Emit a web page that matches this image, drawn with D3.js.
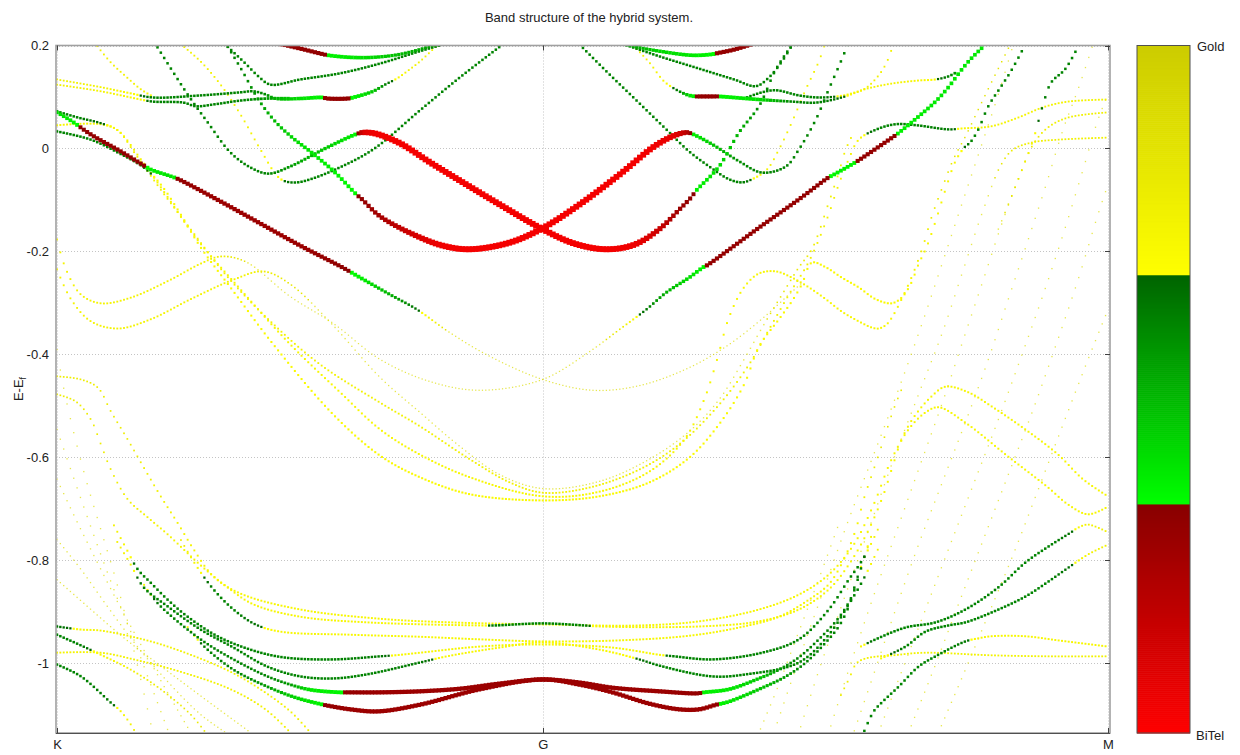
<!DOCTYPE html>
<html>
<head>
<meta charset="utf-8">
<script src="https://cdn.jsdelivr.net/npm/d3@7"></script>
<style>
  body { margin: 0; background: #fff; }
  svg { font-family: "Liberation Sans", Arial, sans-serif; }
</style>
</head>
<body>
<svg id="chart" width="1240" height="755"></svg>
<script>
// k path: K - G - M, energies in eV relative to E_f, w = projection (0 BiTel .. 1 Gold)
const kPoints = [0, 0.4873, 1.054];
const kLabels = ["K", "G", "M"];
const energyTicks = [0.2, 0, -0.2, -0.4, -0.6, -0.8, -1];
const energyRange = [-1.136, 0.2];

const bandA = [
  [0.000, 0.070, 0.42], [0.014, 0.054, 0.36], [0.034, 0.027, 0.30], [0.064, -0.006, 0.30],
  [0.087, -0.033, 0.31], [0.094, -0.041, 0.36], [0.114, -0.054, 0.40], [0.122, -0.060, 0.30],
  [0.164, -0.103, 0.28], [0.204, -0.146, 0.28], [0.244, -0.189, 0.28], [0.286, -0.231, 0.31],
  [0.304, -0.251, 0.36], [0.334, -0.284, 0.50], [0.361, -0.313, 0.64], [0.394, -0.358, 0.86],
  [0.434, -0.404, 0.90], [0.487, -0.449, 0.90], [0.537, -0.470, 0.90], [0.584, -0.461, 0.90],
  [0.634, -0.426, 0.90], [0.674, -0.381, 0.90], [0.709, -0.328, 0.90], [0.734, -0.284, 0.88],
  [0.749, -0.258, 0.85]
];
const bandA2 = [
  [0.000, -0.177, 0.74], [0.009, -0.235, 0.74], [0.024, -0.284, 0.74], [0.044, -0.301, 0.74],
  [0.074, -0.290, 0.74], [0.114, -0.255, 0.74], [0.144, -0.224, 0.74], [0.164, -0.210, 0.76],
  [0.189, -0.220, 0.84], [0.234, -0.288, 0.90], [0.277, -0.340, 0.90], [0.324, -0.410, 0.90],
  [0.374, -0.453, 0.90], [0.424, -0.470, 0.90], [0.487, -0.449, 0.90], [0.534, -0.395, 0.88],
  [0.564, -0.352, 0.80], [0.591, -0.313, 0.62], [0.611, -0.280, 0.50], [0.634, -0.251, 0.40],
  [0.648, -0.231, 0.35], [0.652, -0.227, 0.30], [0.704, -0.154, 0.30], [0.744, -0.099, 0.30],
  [0.774, -0.056, 0.31], [0.778, -0.052, 0.36], [0.799, -0.029, 0.36], [0.804, -0.023, 0.30],
  [0.839, 0.023, 0.30], [0.842, 0.027, 0.36], [0.864, 0.062, 0.37], [0.881, 0.091, 0.38],
  [0.894, 0.119, 0.38], [0.906, 0.150, 0.38], [0.916, 0.173, 0.38], [0.929, 0.198, 0.38]
];
const bandR1 = [
  [0.099, 0.202, 0.60], [0.131, 0.105, 0.60], [0.151, 0.051, 0.60], [0.174, -0.008, 0.60],
  [0.194, -0.037, 0.60], [0.212, -0.049, 0.60], [0.234, -0.035, 0.55], [0.267, -0.002, 0.45],
  [0.294, 0.023, 0.38], [0.302, 0.029, 0.34], [0.307, 0.031, 0.10], [0.319, 0.029, 0.04],
  [0.344, 0.010, 0.03], [0.374, -0.027, 0.03], [0.407, -0.066, 0.03], [0.444, -0.109, 0.03],
  [0.487, -0.157, 0.03], [0.519, -0.185, 0.03], [0.551, -0.196, 0.03], [0.579, -0.187, 0.05],
  [0.604, -0.157, 0.15], [0.624, -0.119, 0.28], [0.636, -0.095, 0.31], [0.641, -0.082, 0.36],
  [0.664, -0.035, 0.40], [0.684, 0.031, 0.50], [0.704, 0.082, 0.58], [0.721, 0.154, 0.60],
  [0.736, 0.198, 0.60]
];
const bandR2 = [
  [0.170, 0.202, 0.60], [0.186, 0.150, 0.60], [0.202, 0.095, 0.55], [0.219, 0.052, 0.48],
  [0.236, 0.021, 0.42], [0.254, -0.006, 0.38], [0.279, -0.047, 0.36], [0.300, -0.089, 0.34],
  [0.306, -0.099, 0.30], [0.324, -0.132, 0.25], [0.364, -0.173, 0.10], [0.389, -0.190, 0.04],
  [0.414, -0.196, 0.03], [0.454, -0.183, 0.03], [0.487, -0.155, 0.03], [0.524, -0.109, 0.03],
  [0.564, -0.051, 0.03], [0.599, 0.004, 0.04], [0.619, 0.025, 0.08], [0.631, 0.031, 0.20],
  [0.636, 0.029, 0.36], [0.657, 0.008, 0.45], [0.684, -0.025, 0.58], [0.707, -0.047, 0.60],
  [0.731, -0.035, 0.60], [0.744, -0.002, 0.60], [0.761, 0.056, 0.60], [0.774, 0.115, 0.60],
  [0.787, 0.173, 0.60], [0.793, 0.202, 0.60]
];
const bandG1 = [
  [0.127, 0.198, 0.75], [0.144, 0.169, 0.75], [0.164, 0.124, 0.75], [0.184, 0.066, 0.75],
  [0.204, -0.002, 0.74], [0.221, -0.054, 0.70], [0.229, -0.064, 0.64], [0.241, -0.066, 0.60],
  [0.254, -0.060, 0.60], [0.279, -0.041, 0.60], [0.317, -0.002, 0.60], [0.364, 0.074, 0.60],
  [0.404, 0.138, 0.60], [0.447, 0.202, 0.60]
];
const bandG2 = [
  [0.524, 0.202, 0.60], [0.554, 0.144, 0.60], [0.577, 0.101, 0.60], [0.611, 0.037, 0.60],
  [0.634, -0.006, 0.60], [0.654, -0.035, 0.60], [0.674, -0.060, 0.60], [0.687, -0.066, 0.60],
  [0.697, -0.060, 0.66], [0.712, -0.041, 0.74], [0.724, -0.002, 0.75], [0.737, 0.051, 0.75],
  [0.751, 0.115, 0.75], [0.764, 0.169, 0.75], [0.770, 0.202, 0.75]
];
const bandT1 = [
  [0.209, 0.208, 0.30], [0.226, 0.202, 0.30], [0.244, 0.194, 0.30], [0.267, 0.183, 0.31],
  [0.272, 0.181, 0.36], [0.294, 0.177, 0.38], [0.317, 0.177, 0.42], [0.344, 0.183, 0.48],
  [0.381, 0.202, 0.55], [0.395, 0.210, 0.55]
];
const bandT1r = [
  [0.550, 0.210, 0.55], [0.564, 0.204, 0.55], [0.584, 0.196, 0.50], [0.604, 0.189, 0.42],
  [0.637, 0.181, 0.38], [0.657, 0.183, 0.35], [0.662, 0.185, 0.30], [0.679, 0.192, 0.30],
  [0.696, 0.202, 0.30], [0.710, 0.210, 0.30]
];
const bandT2 = [
  [0.166, 0.208, 0.60], [0.171, 0.198, 0.60], [0.189, 0.165, 0.60], [0.202, 0.140, 0.60],
  [0.214, 0.124, 0.60], [0.244, 0.134, 0.60], [0.284, 0.146, 0.60], [0.324, 0.165, 0.60],
  [0.364, 0.189, 0.60], [0.391, 0.204, 0.60]
];
const bandT2r = [
  [0.569, 0.202, 0.60], [0.604, 0.179, 0.60], [0.644, 0.155, 0.60], [0.679, 0.134, 0.60],
  [0.701, 0.121, 0.60], [0.714, 0.138, 0.60], [0.727, 0.169, 0.60], [0.737, 0.200, 0.60]
];
const bandT3a = [
  [0.000, 0.134, 0.75], [0.024, 0.126, 0.75], [0.044, 0.119, 0.74], [0.074, 0.107, 0.70],
  [0.096, 0.099, 0.60], [0.144, 0.103, 0.60], [0.184, 0.109, 0.60], [0.197, 0.111, 0.60],
  [0.209, 0.105, 0.58], [0.219, 0.097, 0.50], [0.244, 0.097, 0.40], [0.266, 0.099, 0.35],
  [0.271, 0.097, 0.30], [0.292, 0.097, 0.30], [0.297, 0.099, 0.35], [0.317, 0.111, 0.45],
  [0.329, 0.124, 0.60], [0.341, 0.136, 0.70], [0.354, 0.154, 0.75], [0.364, 0.169, 0.75],
  [0.381, 0.200, 0.75]
];
const bandT3b = [
  [0.000, 0.124, 0.75], [0.044, 0.111, 0.74], [0.084, 0.095, 0.70], [0.096, 0.091, 0.60],
  [0.127, 0.089, 0.60], [0.139, 0.082, 0.60], [0.159, 0.086, 0.60], [0.184, 0.093, 0.60],
  [0.211, 0.097, 0.55], [0.234, 0.097, 0.45]
];
const bandT3r = [
  [0.577, 0.202, 0.75], [0.594, 0.167, 0.75], [0.609, 0.130, 0.72], [0.624, 0.111, 0.60],
  [0.634, 0.103, 0.40], [0.641, 0.101, 0.34], [0.644, 0.101, 0.30], [0.659, 0.101, 0.30],
  [0.664, 0.101, 0.35], [0.704, 0.095, 0.40], [0.737, 0.091, 0.60], [0.761, 0.089, 0.60],
  [0.787, 0.099, 0.65], [0.799, 0.107, 0.72], [0.811, 0.117, 0.74], [0.824, 0.142, 0.75],
  [0.832, 0.167, 0.75], [0.838, 0.198, 0.75]
];
const bandT3br = [
  [0.689, 0.097, 0.60], [0.707, 0.109, 0.60], [0.721, 0.113, 0.60], [0.744, 0.103, 0.60],
  [0.764, 0.099, 0.60], [0.789, 0.103, 0.70], [0.814, 0.117, 0.74], [0.837, 0.126, 0.74],
  [0.864, 0.132, 0.72], [0.881, 0.134, 0.68], [0.894, 0.140, 0.60], [0.902, 0.148, 0.55]
];
const bandYK1 = [
  [0.039, 0.202, 0.75], [0.054, 0.167, 0.75], [0.069, 0.140, 0.75], [0.084, 0.115, 0.74],
  [0.096, 0.101, 0.70]
];
const bandD2 = [
  [0.944, -0.157, 0.85], [0.964, -0.060, 0.80], [0.979, 0.017, 0.72], [0.989, 0.086, 0.62],
  [0.997, 0.128, 0.60], [1.011, 0.154, 0.60], [1.024, 0.198, 0.60]
];
const bandV1 = [
  [0.000, -0.235, 0.74], [0.014, -0.293, 0.74], [0.034, -0.336, 0.74], [0.061, -0.350, 0.74],
  [0.094, -0.332, 0.74], [0.134, -0.293, 0.74], [0.177, -0.255, 0.74], [0.207, -0.239, 0.76],
  [0.234, -0.264, 0.82], [0.274, -0.338, 0.86], [0.324, -0.445, 0.88], [0.364, -0.513, 0.88],
  [0.404, -0.579, 0.88], [0.444, -0.634, 0.88], [0.487, -0.661, 0.88], [0.544, -0.647, 0.88],
  [0.594, -0.604, 0.88], [0.634, -0.550, 0.88], [0.664, -0.488, 0.88], [0.689, -0.410, 0.86],
  [0.709, -0.342, 0.84], [0.729, -0.278, 0.82], [0.744, -0.231, 0.80], [0.757, -0.196, 0.78],
  [0.774, -0.105, 0.76], [0.784, -0.047, 0.76], [0.791, -0.002, 0.76], [0.799, 0.031, 0.75]
];
const bandV2 = [
  [0.000, 0.072, 0.60], [0.021, 0.060, 0.60], [0.044, 0.049, 0.65], [0.061, 0.035, 0.72],
  [0.079, -0.012, 0.75], [0.104, -0.080, 0.75], [0.134, -0.157, 0.75], [0.169, -0.245, 0.75],
  [0.214, -0.336, 0.75], [0.264, -0.420, 0.75], [0.324, -0.494, 0.75], [0.364, -0.540, 0.75],
  [0.414, -0.604, 0.75], [0.454, -0.649, 0.75], [0.487, -0.669, 0.75], [0.534, -0.659, 0.75],
  [0.584, -0.624, 0.75], [0.624, -0.575, 0.75], [0.664, -0.498, 0.75], [0.694, -0.420, 0.75],
  [0.714, -0.352, 0.75], [0.734, -0.284, 0.75], [0.754, -0.220, 0.75], [0.772, -0.138, 0.75],
  [0.784, -0.070, 0.75], [0.794, -0.021, 0.74], [0.804, 0.017, 0.72], [0.822, 0.037, 0.60],
  [0.841, 0.047, 0.60], [0.862, 0.045, 0.60], [0.894, 0.037, 0.62], [0.909, 0.039, 0.72],
  [0.937, 0.043, 0.74], [0.964, 0.060, 0.74], [0.989, 0.080, 0.74], [1.014, 0.091, 0.74],
  [1.054, 0.095, 0.74]
];
const bandV3 = [
  [0.000, 0.045, 0.72], [0.044, 0.047, 0.72], [0.061, 0.035, 0.72], [0.084, -0.021, 0.72],
  [0.109, -0.089, 0.72], [0.139, -0.173, 0.72], [0.184, -0.274, 0.72], [0.234, -0.381, 0.72],
  [0.284, -0.474, 0.72], [0.324, -0.546, 0.72], [0.364, -0.595, 0.72], [0.414, -0.639, 0.72],
  [0.487, -0.676, 0.72], [0.544, -0.667, 0.72], [0.594, -0.628, 0.72], [0.629, -0.566, 0.72],
  [0.649, -0.488, 0.72], [0.662, -0.410, 0.72], [0.674, -0.328, 0.72], [0.689, -0.270, 0.72],
  [0.704, -0.243, 0.72], [0.721, -0.239, 0.72], [0.737, -0.251, 0.72], [0.754, -0.270, 0.72],
  [0.771, -0.293, 0.72], [0.787, -0.317, 0.72], [0.804, -0.336, 0.72], [0.817, -0.348, 0.72],
  [0.824, -0.350, 0.72], [0.832, -0.342, 0.72], [0.839, -0.323, 0.72], [0.847, -0.293, 0.72],
  [0.854, -0.264, 0.72], [0.861, -0.231, 0.74], [0.869, -0.187, 0.76], [0.877, -0.134, 0.78],
  [0.889, -0.070, 0.80], [0.899, -0.021, 0.82], [0.912, 0.027, 0.84], [0.924, 0.076, 0.84],
  [0.936, 0.124, 0.84], [0.946, 0.163, 0.84], [0.956, 0.202, 0.84]
];
const bandV4 = [
  [0.000, 0.033, 0.60], [0.034, 0.017, 0.60], [0.061, -0.008, 0.60], [0.087, -0.037, 0.62],
  [0.104, -0.070, 0.70], [0.124, -0.128, 0.70], [0.144, -0.192, 0.70], [0.177, -0.278, 0.70],
  [0.217, -0.381, 0.70], [0.277, -0.517, 0.70], [0.324, -0.597, 0.70], [0.364, -0.639, 0.70],
  [0.414, -0.672, 0.70], [0.487, -0.684, 0.70], [0.544, -0.676, 0.70], [0.594, -0.649, 0.70],
  [0.634, -0.601, 0.70], [0.664, -0.536, 0.70], [0.689, -0.459, 0.70], [0.704, -0.385, 0.70],
  [0.724, -0.332, 0.70], [0.737, -0.297, 0.70], [0.747, -0.264, 0.70], [0.757, -0.222, 0.70],
  [0.771, -0.231, 0.70], [0.787, -0.251, 0.70], [0.804, -0.270, 0.70], [0.821, -0.293, 0.70],
  [0.837, -0.301, 0.70], [0.847, -0.290, 0.70], [0.856, -0.264, 0.70], [0.864, -0.225, 0.72],
  [0.872, -0.192, 0.72], [0.881, -0.142, 0.72], [0.891, -0.080, 0.72], [0.901, -0.025, 0.72],
  [0.910, 0.002, 0.65], [0.916, 0.012, 0.60], [0.924, 0.037, 0.60], [0.934, 0.082, 0.60],
  [0.947, 0.121, 0.60], [0.956, 0.148, 0.60], [0.966, 0.183, 0.60], [0.971, 0.202, 0.60]
];
const bandLY1 = [
  [0.000, -0.478, 0.78], [0.019, -0.492, 0.78], [0.034, -0.527, 0.78], [0.044, -0.575, 0.78],
  [0.054, -0.624, 0.78], [0.071, -0.682, 0.76], [0.091, -0.717, 0.74], [0.111, -0.750, 0.74],
  [0.144, -0.810, 0.72], [0.171, -0.853, 0.72], [0.197, -0.886, 0.72], [0.244, -0.910, 0.72],
  [0.311, -0.921, 0.72], [0.424, -0.927, 0.72], [0.439, -0.927, 0.60], [0.487, -0.923, 0.60],
  [0.529, -0.927, 0.60], [0.544, -0.929, 0.72], [0.644, -0.929, 0.72], [0.704, -0.919, 0.72],
  [0.744, -0.896, 0.72], [0.774, -0.857, 0.72], [0.794, -0.809, 0.72], [0.814, -0.741, 0.72],
  [0.829, -0.672, 0.72], [0.837, -0.624, 0.72], [0.847, -0.566, 0.72], [0.859, -0.523, 0.72],
  [0.877, -0.482, 0.72], [0.891, -0.463, 0.72], [0.914, -0.474, 0.72], [0.937, -0.501, 0.72],
  [0.971, -0.546, 0.72], [1.004, -0.595, 0.72], [1.029, -0.643, 0.72], [1.054, -0.676, 0.72]
];
const bandLY2 = [
  [0.000, -0.443, 0.78], [0.024, -0.449, 0.78], [0.041, -0.465, 0.78], [0.054, -0.511, 0.78],
  [0.071, -0.566, 0.78], [0.087, -0.620, 0.76], [0.104, -0.676, 0.75], [0.122, -0.731, 0.74],
  [0.137, -0.779, 0.73], [0.157, -0.832, 0.72], [0.184, -0.865, 0.72], [0.244, -0.896, 0.72],
  [0.324, -0.914, 0.72], [0.394, -0.921, 0.72], [0.487, -0.925, 0.72], [0.584, -0.927, 0.72],
  [0.644, -0.919, 0.72], [0.704, -0.896, 0.72], [0.744, -0.867, 0.72], [0.774, -0.828, 0.72],
  [0.799, -0.770, 0.72], [0.819, -0.692, 0.72], [0.837, -0.604, 0.72], [0.854, -0.546, 0.72],
  [0.871, -0.513, 0.72], [0.884, -0.503, 0.72], [0.911, -0.533, 0.72], [0.954, -0.599, 0.72],
  [0.994, -0.659, 0.72], [1.014, -0.692, 0.72], [1.034, -0.711, 0.72], [1.054, -0.696, 0.72]
];
const bandLG3 = [
  [0.124, -0.760, 0.78], [0.139, -0.809, 0.72], [0.157, -0.857, 0.60], [0.177, -0.896, 0.60],
  [0.199, -0.925, 0.64], [0.224, -0.939, 0.72], [0.294, -0.945, 0.72], [0.364, -0.949, 0.72],
  [0.424, -0.954, 0.72], [0.487, -0.958, 0.72], [0.564, -0.956, 0.72], [0.634, -0.947, 0.72],
  [0.684, -0.931, 0.72], [0.724, -0.910, 0.72], [0.754, -0.877, 0.72], [0.774, -0.847, 0.72],
  [0.789, -0.799, 0.72], [0.801, -0.741, 0.72], [0.809, -0.682, 0.75], [0.819, -0.624, 0.78],
  [0.829, -0.566, 0.80], [0.839, -0.507, 0.80], [0.849, -0.459, 0.80]
];
const bandLg1 = [
  [0.054, -0.721, 0.75], [0.069, -0.776, 0.72], [0.081, -0.818, 0.60], [0.094, -0.844, 0.60],
  [0.111, -0.877, 0.60], [0.131, -0.910, 0.60], [0.161, -0.948, 0.60], [0.194, -0.974, 0.60],
  [0.227, -0.989, 0.60], [0.277, -0.993, 0.60], [0.324, -0.987, 0.62], [0.339, -0.985, 0.70],
  [0.364, -0.980, 0.72], [0.424, -0.968, 0.72], [0.487, -0.964, 0.72], [0.557, -0.970, 0.72],
  [0.604, -0.984, 0.70], [0.619, -0.987, 0.60], [0.657, -0.993, 0.60], [0.707, -0.980, 0.60],
  [0.744, -0.954, 0.60], [0.774, -0.896, 0.60], [0.794, -0.838, 0.60], [0.806, -0.805, 0.60],
  [0.816, -0.770, 0.72], [0.824, -0.737, 0.75]
];
const bandLg2 = [
  [0.059, -0.760, 0.75], [0.074, -0.809, 0.72], [0.087, -0.853, 0.60], [0.111, -0.890, 0.60],
  [0.144, -0.935, 0.60], [0.177, -0.970, 0.60], [0.211, -1.007, 0.60], [0.244, -1.026, 0.60],
  [0.277, -1.030, 0.60], [0.311, -1.022, 0.60], [0.364, -0.999, 0.62], [0.391, -0.987, 0.72],
  [0.444, -0.970, 0.72], [0.487, -0.960, 0.72], [0.544, -0.974, 0.72], [0.584, -0.993, 0.66],
  [0.604, -1.005, 0.60], [0.657, -1.026, 0.60], [0.691, -1.022, 0.60], [0.744, -0.999, 0.60],
  [0.774, -0.945, 0.60], [0.794, -0.886, 0.60], [0.806, -0.847, 0.60], [0.816, -0.809, 0.72],
  [0.824, -0.776, 0.75]
];
const bandRU = [
  [0.084, -0.838, 0.75], [0.094, -0.867, 0.70], [0.104, -0.890, 0.60], [0.144, -0.954, 0.60],
  [0.177, -0.993, 0.60], [0.211, -1.026, 0.60], [0.234, -1.042, 0.55], [0.254, -1.052, 0.38],
  [0.284, -1.057, 0.35], [0.291, -1.057, 0.30], [0.324, -1.057, 0.28], [0.364, -1.055, 0.28],
  [0.404, -1.050, 0.28], [0.444, -1.040, 0.28], [0.487, -1.032, 0.28], [0.524, -1.038, 0.28],
  [0.557, -1.048, 0.28], [0.604, -1.055, 0.28], [0.642, -1.059, 0.30], [0.649, -1.057, 0.36],
  [0.674, -1.051, 0.38], [0.704, -1.030, 0.45], [0.724, -1.013, 0.55], [0.744, -0.989, 0.60],
  [0.764, -0.954, 0.60], [0.784, -0.912, 0.60], [0.797, -0.871, 0.60], [0.806, -0.818, 0.60],
  [0.812, -0.779, 0.70], [0.819, -0.741, 0.75]
];
const bandRL = [
  [0.129, -0.925, 0.75], [0.139, -0.950, 0.70], [0.151, -0.974, 0.60], [0.177, -1.013, 0.60],
  [0.211, -1.046, 0.55], [0.239, -1.067, 0.42], [0.267, -1.081, 0.35], [0.272, -1.083, 0.30],
  [0.294, -1.090, 0.28], [0.322, -1.094, 0.28], [0.364, -1.081, 0.28], [0.424, -1.051, 0.28],
  [0.487, -1.032, 0.28], [0.524, -1.042, 0.28], [0.557, -1.057, 0.28], [0.594, -1.079, 0.28],
  [0.624, -1.090, 0.28], [0.644, -1.090, 0.28], [0.661, -1.081, 0.30], [0.666, -1.079, 0.36],
  [0.674, -1.075, 0.38], [0.704, -1.051, 0.45], [0.731, -1.026, 0.55], [0.751, -0.999, 0.60],
  [0.771, -0.960, 0.60], [0.784, -0.929, 0.60], [0.794, -0.890, 0.60], [0.801, -0.844, 0.60],
  [0.807, -0.809, 0.70], [0.814, -0.770, 0.75]
];
const bandDG1 = [
  [0.804, -0.970, 0.72], [0.821, -0.954, 0.60], [0.851, -0.931, 0.60], [0.881, -0.921, 0.60],
  [0.911, -0.896, 0.60], [0.944, -0.853, 0.60], [0.971, -0.805, 0.60], [0.994, -0.774, 0.60],
  [1.017, -0.746, 0.64], [1.024, -0.737, 0.72], [1.034, -0.731, 0.75], [1.054, -0.746, 0.75]
];
const bandDG2 = [
  [0.824, -0.993, 0.72], [0.851, -0.968, 0.60], [0.871, -0.939, 0.60], [0.894, -0.927, 0.60],
  [0.911, -0.921, 0.60], [0.937, -0.902, 0.60], [0.971, -0.871, 0.60], [0.994, -0.842, 0.60],
  [1.014, -0.815, 0.64], [1.034, -0.789, 0.74], [1.054, -0.770, 0.75]
];
const bandDG3 = [
  [0.809, -1.135, 0.60], [0.819, -1.094, 0.60], [0.827, -1.077, 0.60], [0.844, -1.046, 0.60],
  [0.864, -1.007, 0.60], [0.881, -0.987, 0.60], [0.911, -0.958, 0.62], [0.924, -0.952, 0.72],
  [0.937, -0.948, 0.72], [0.971, -0.948, 0.72], [1.004, -0.956, 0.72], [1.054, -0.968, 0.72]
];
const bandYM3 = [
  [0.784, -1.071, 0.78], [0.794, -1.032, 0.76], [0.804, -0.997, 0.75], [0.844, -0.984, 0.75],
  [0.871, -0.980, 0.75], [0.937, -0.985, 0.75], [0.994, -0.987, 0.75], [1.054, -0.987, 0.75]
];
const bandKY1 = [
  [0.000, -0.929, 0.62], [0.024, -0.935, 0.70], [0.044, -0.937, 0.74], [0.094, -0.958, 0.75],
  [0.134, -0.984, 0.75], [0.174, -1.017, 0.75], [0.204, -1.051, 0.75], [0.234, -1.094, 0.75],
  [0.254, -1.135, 0.75]
];
const bandKY2 = [
  [0.000, -0.980, 0.74], [0.044, -0.980, 0.74], [0.077, -0.993, 0.75], [0.124, -1.017, 0.75],
  [0.174, -1.051, 0.75], [0.209, -1.090, 0.75], [0.234, -1.135, 0.75]
];
const bandKD2 = [
  [0.000, -0.945, 0.60], [0.022, -0.964, 0.60], [0.044, -0.984, 0.70], [0.074, -1.013, 0.75],
  [0.104, -1.051, 0.78], [0.134, -1.100, 0.80], [0.149, -1.135, 0.80]
];
const bandKD3 = [
  [0.000, -1.003, 0.60], [0.024, -1.026, 0.60], [0.054, -1.077, 0.62], [0.064, -1.094, 0.72],
  [0.077, -1.129, 0.75], [0.079, -1.140, 0.75]
];
// faint, steep Gold bands near K and near M
const faintK = [
  [[0.000, -0.391, 0.88], [0.006, -0.459, 0.88], [0.016, -0.546, 0.88], [0.029, -0.643, 0.88], [0.044, -0.741, 0.88], [0.059, -0.838, 0.88], [0.072, -0.935, 0.88], [0.084, -1.032, 0.88], [0.096, -1.135, 0.88]],
  [[0.000, -0.546, 0.88], [0.012, -0.614, 0.88], [0.026, -0.692, 0.88], [0.042, -0.779, 0.88], [0.059, -0.867, 0.88], [0.077, -0.954, 0.88], [0.094, -1.042, 0.88], [0.112, -1.135, 0.88]],
  [[0.000, -0.643, 0.88], [0.019, -0.721, 0.88], [0.039, -0.799, 0.88], [0.062, -0.886, 0.88], [0.084, -0.964, 0.88], [0.109, -1.051, 0.88], [0.134, -1.135, 0.88]],
  [[0.000, -0.760, 0.88], [0.024, -0.818, 0.88], [0.049, -0.886, 0.88], [0.079, -0.964, 0.88], [0.109, -1.032, 0.88], [0.144, -1.100, 0.88], [0.169, -1.135, 0.88]],
  [[0.000, -0.838, 0.88], [0.034, -0.896, 0.88], [0.069, -0.954, 0.88], [0.109, -1.013, 0.88], [0.149, -1.071, 0.88], [0.194, -1.135, 0.88]]
];
const faintM = [
  [[0.719, -1.135, 0.88], [0.744, -0.993, 0.88], [0.769, -0.857, 0.88], [0.794, -0.721, 0.88], [0.819, -0.595, 0.88], [0.844, -0.468, 0.88], [0.869, -0.332, 0.88], [0.889, -0.216, 0.88], [0.909, -0.099, 0.88], [0.929, 0.017, 0.88], [0.944, 0.105, 0.88], [0.959, 0.202, 0.88]],
  [[0.744, -1.135, 0.88], [0.766, -1.003, 0.88], [0.789, -0.877, 0.88], [0.814, -0.741, 0.88], [0.839, -0.604, 0.88], [0.864, -0.478, 0.88], [0.889, -0.352, 0.88], [0.909, -0.235, 0.88], [0.929, -0.119, 0.86], [0.947, -0.031, 0.82], [0.959, -0.002, 0.78], [0.979, 0.012, 0.76], [1.004, 0.017, 0.76], [1.054, 0.021, 0.76]],
  [[0.774, -1.135, 0.88], [0.794, -1.013, 0.88], [0.816, -0.886, 0.88], [0.839, -0.760, 0.88], [0.864, -0.624, 0.88], [0.889, -0.488, 0.88], [0.909, -0.371, 0.88], [0.929, -0.255, 0.88], [0.949, -0.138, 0.86], [0.964, -0.060, 0.82], [0.979, 0.008, 0.78], [0.994, 0.041, 0.76], [1.014, 0.060, 0.76], [1.054, 0.070, 0.76]],
  [[0.799, -1.135, 0.88], [0.819, -1.022, 0.88], [0.841, -0.896, 0.88], [0.864, -0.770, 0.88], [0.889, -0.643, 0.88], [0.912, -0.527, 0.88], [0.934, -0.410, 0.88], [0.954, -0.293, 0.88], [0.974, -0.177, 0.88], [0.992, -0.070, 0.88], [1.009, 0.037, 0.88], [1.024, 0.115, 0.88], [1.039, 0.202, 0.88]],
  [[0.824, -1.135, 0.88], [0.844, -1.032, 0.88], [0.869, -0.906, 0.88], [0.894, -0.779, 0.88], [0.919, -0.653, 0.88], [0.944, -0.527, 0.88], [0.966, -0.410, 0.88], [0.989, -0.284, 0.88], [1.009, -0.167, 0.88], [1.029, -0.041, 0.88], [1.044, 0.056, 0.88], [1.054, 0.105, 0.88]],
  [[0.854, -1.135, 0.88], [0.879, -1.013, 0.88], [0.904, -0.886, 0.88], [0.929, -0.760, 0.88], [0.954, -0.634, 0.88], [0.979, -0.507, 0.88], [1.002, -0.381, 0.88], [1.024, -0.255, 0.88], [1.044, -0.128, 0.88], [1.054, -0.070, 0.88]],
  [[0.884, -1.135, 0.88], [0.909, -1.022, 0.88], [0.934, -0.906, 0.88], [0.959, -0.789, 0.88], [0.984, -0.663, 0.88], [1.009, -0.536, 0.88], [1.034, -0.410, 0.88], [1.054, -0.313, 0.88]],
  [[0.704, -1.135, 0.88], [0.722, -1.051, 0.88], [0.741, -0.954, 0.88], [0.762, -0.847, 0.88], [0.784, -0.730, 0.88]]
];

const bands = [
  bandA, bandA2, bandR1, bandR2, bandG1, bandG2, bandT1, bandT1r, bandT2, bandT2r,
  bandT3a, bandT3b, bandT3r, bandT3br, bandYK1, bandD2, bandV1, bandV2, bandV3, bandV4,
  bandLY1, bandLY2, bandLG3, bandLg1, bandLg2, bandRU, bandRL, bandDG1, bandDG2, bandDG3,
  bandYM3, bandKY1, bandKY2, bandKD2, bandKD3, ...faintK, ...faintM
];

// ---- layout
const frame = { left: 56, right: 1110, top: 45.5, bottom: 733 };
const svg = d3.select("#chart");

const x = d3.scaleLinear().domain([kPoints[0], kPoints[2]]).range([57, 1108]);
const y = d3.scaleLinear().domain(energyRange).range([frame.bottom, frame.top]);

function bandColor(w) {
  if (w < 1 / 3) return d3.interpolateRgb("#ff0000", "#880000")(w * 3);
  if (w < 2 / 3) return d3.interpolateRgb("#00ff00", "#006400")((w - 1 / 3) * 3);
  return d3.interpolateRgb("#ffff00", "#cccc00")(Math.min(1, (w - 2 / 3) * 3));
}
function dotSize(w) { return 1.0 + 5.0 * Math.pow(1 - w, 1.3); }
function weightAt(band, k) {
  if (k <= band[0][0]) return band[0][2];
  for (let i = 1; i < band.length; i++) {
    if (k <= band[i][0]) {
      const a = band[i - 1], b = band[i];
      const t = (k - a[0]) / ((b[0] - a[0]) || 1);
      return a[2] + t * (b[2] - a[2]);
    }
  }
  return band[band.length - 1][2];
}

// grid
const grid = svg.append("g").attr("stroke", "#c4c4c4").attr("stroke-dasharray", "1,2");
grid.selectAll("line.h").data(energyTicks).join("line")
  .attr("x1", frame.left).attr("x2", frame.right)
  .attr("y1", d => Math.round(y(d)) + 0.5).attr("y2", d => Math.round(y(d)) + 0.5);
grid.selectAll("line.v").data(kPoints).join("line")
  .attr("y1", frame.top).attr("y2", frame.bottom)
  .attr("x1", d => Math.round(x(d)) + 0.5).attr("x2", d => Math.round(x(d)) + 0.5);

// bands drawn as sampled points along a smooth curve through the read values
svg.append("clipPath").attr("id", "plotClip").append("rect")
  .attr("x", frame.left).attr("y", frame.top)
  .attr("width", frame.right - frame.left).attr("height", frame.bottom - frame.top);

const line = d3.line().x(d => x(d[0])).y(d => y(d[1])).curve(d3.curveCatmullRom.alpha(0.5));
const probe = svg.append("path").attr("fill", "none").attr("visibility", "hidden");
const step = 3.35;
const x0 = x.range()[0];
const dots = [];
bands.forEach(band => {
  probe.attr("d", line(band));
  const node = probe.node();
  const L = node.getTotalLength();
  let prev = node.getPointAtLength(0);
  let gi = Math.ceil((prev.x - x0) / step - 1e-6);
  for (let s = 0.4; s <= L + 0.4; s += 0.4) {
    const p = node.getPointAtLength(Math.min(s, L));
    while (x0 + gi * step <= p.x + 1e-6) {
      const gx = x0 + gi * step;
      if (gx >= prev.x - 1e-6) {
        const t = p.x === prev.x ? 0 : (gx - prev.x) / (p.x - prev.x);
        const gy = prev.y + t * (p.y - prev.y);
        const w = weightAt(band, x.invert(gx));
        dots.push({ x: gx, y: gy, w: w, s: dotSize(w) });
      }
      gi++;
    }
    prev = p;
  }
});
probe.remove();
dots.sort((a, b) => b.w - a.w);

svg.append("g").attr("clip-path", "url(#plotClip)")
  .selectAll("rect").data(dots).join("rect")
  .attr("x", d => d.x - d.s / 2).attr("y", d => d.y - d.s / 2)
  .attr("width", d => d.s).attr("height", d => d.s)
  .attr("fill", d => bandColor(d.w))
  .attr("fill-opacity", d => d.w > 0.84 ? 0.7 : 1);

// frame and ticks
svg.append("rect")
  .attr("x", frame.left).attr("y", frame.top)
  .attr("width", frame.right - frame.left).attr("height", frame.bottom - frame.top)
  .attr("fill", "none").attr("stroke", "#a0a0a0").attr("stroke-width", 1.6);
svg.append("line")
  .attr("x1", frame.left).attr("x2", frame.right)
  .attr("y1", frame.bottom + 0.5).attr("y2", frame.bottom + 0.5)
  .attr("stroke", "#505050").attr("stroke-width", 1);

const ticks = svg.append("g").attr("stroke", "#404040").attr("stroke-width", 1);
ticks.selectAll("line.r").data(energyTicks).join("line")
  .attr("x1", frame.right).attr("x2", frame.right - 5)
  .attr("y1", d => Math.round(y(d)) + 0.5).attr("y2", d => Math.round(y(d)) + 0.5);
ticks.selectAll("line.b").data(kPoints).join("line")
  .attr("y1", frame.bottom).attr("y2", frame.bottom - 5)
  .attr("x1", d => Math.round(x(d)) + 0.5).attr("x2", d => Math.round(x(d)) + 0.5);
ticks.selectAll("line.t").data(kPoints).join("line")
  .attr("y1", frame.top).attr("y2", frame.top + 5)
  .attr("x1", d => Math.round(x(d)) + 0.5).attr("x2", d => Math.round(x(d)) + 0.5);

const yAxis = d3.axisLeft(y).tickValues(energyTicks).tickSize(0).tickPadding(7)
  .tickFormat(d => String(d));
svg.append("g").attr("transform", `translate(${frame.left},0)`).call(yAxis)
  .call(g => g.select(".domain").remove())
  .selectAll("text").attr("font-size", 13).attr("fill", "#222")
  .attr("font-family", '"Liberation Sans", Arial, sans-serif');

const xAxis = d3.axisBottom(x).tickValues(kPoints).tickSize(0).tickPadding(7)
  .tickFormat((d, i) => kLabels[i]);
svg.append("g").attr("transform", `translate(0,${frame.bottom})`).call(xAxis)
  .call(g => g.select(".domain").remove())
  .selectAll("text").attr("font-size", 13).attr("fill", "#222")
  .attr("font-family", '"Liberation Sans", Arial, sans-serif');

// labels
svg.append("text").attr("x", 589).attr("y", 22).attr("text-anchor", "middle")
  .attr("font-size", 13).attr("fill", "#222").text("Band structure of the hybrid system.");

const ylab = svg.append("text").attr("transform", "translate(22.5,389) rotate(-90)")
  .attr("text-anchor", "middle").attr("font-size", 13).attr("fill", "#222");
ylab.append("tspan").text("E-E");
ylab.append("tspan").attr("font-size", 9).attr("dy", 3).text("f");

// colour bar
const cb = { x: 1137, w: 53, top: 45.5, bottom: 733 };
const cbScale = d3.scaleLinear().domain([0, 1]).range([cb.bottom, cb.top]);
const nSlices = 345;
svg.append("g").selectAll("rect").data(d3.range(nSlices)).join("rect")
  .attr("x", cb.x).attr("width", cb.w)
  .attr("y", i => cbScale((i + 1) / nSlices))
  .attr("height", cbScale(0) - cbScale(1 / nSlices) + 0.6)
  .attr("fill", i => bandColor((i + 0.5) / nSlices));
svg.append("rect").attr("x", cb.x).attr("y", cb.top)
  .attr("width", cb.w).attr("height", cb.bottom - cb.top)
  .attr("fill", "none").attr("stroke", "#505050").attr("stroke-width", 1);
svg.append("text").attr("x", 1197).attr("y", 51).attr("font-size", 13).attr("fill", "#222").text("Gold");
svg.append("text").attr("x", 1196).attr("y", 740).attr("font-size", 13).attr("fill", "#222").text("BiTel");
</script>
</body>
</html>
